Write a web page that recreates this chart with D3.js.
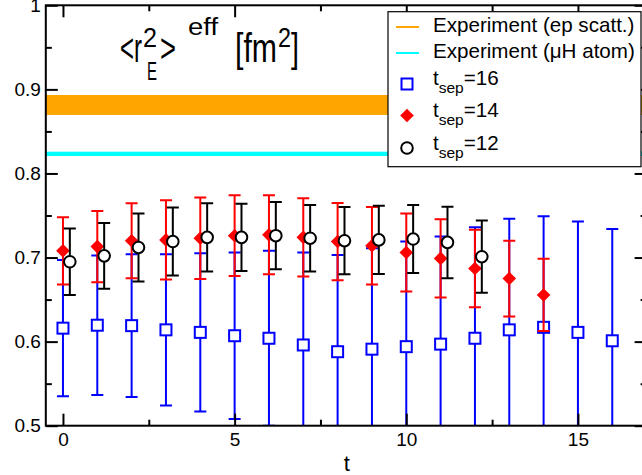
<!DOCTYPE html>
<html><head><meta charset="utf-8">
<script src="https://cdn.jsdelivr.net/npm/d3@7"></script>
<style>
body{margin:0;background:#fff}
svg{display:block}
text{font-family:"Liberation Sans",Arial,Helvetica,sans-serif;fill:#000}
</style>
</head><body>
<svg id="c" width="642" height="475"></svg>
<script>
// ---- data ----
const t16   = [0,1,2,3,4,5,6,7,8,9,10,11,12,13,14,15,16];
const val16 = [0.616,0.6195,0.619,0.614,0.611,0.607,0.604,0.596,0.588,0.591,0.594,0.597,0.604,0.614,0.617,0.611,0.601];
const err16 = [0.081,0.083,0.085,0.090,0.094,0.099,0.104,0.110,0.115,0.120,0.125,0.128,0.132,0.132,0.132,0.132,0.133];

const t14   = [0,1,2,3,4,5,6,7,8,9,10,11,12,13,14];
const val14 = [0.708,0.713,0.720,0.721,0.723,0.726,0.727,0.724,0.719,0.714,0.706,0.699,0.687,0.675,0.6555];
const err14 = [0.040,0.0425,0.0445,0.047,0.0485,0.048,0.047,0.0465,0.046,0.046,0.0465,0.0465,0.046,0.045,0.043];

const t12   = [0,1,2,3,4,5,6,7,8,9,10,11,12];
const val12 = [0.695,0.702,0.712,0.719,0.724,0.724,0.726,0.723,0.720,0.721,0.722,0.718,0.701];
const err12 = [0.0395,0.039,0.0405,0.0405,0.0405,0.040,0.040,0.0395,0.040,0.0405,0.0405,0.0425,0.043];

const bandEp  = [0.8696, 0.8933];   // Experiment (ep scatt.)
const bandMuH = [0.8208, 0.8259];   // Experiment (muH atom)

const xMajor = [0,5,10,15];
const xMinor = [2.5,7.5,12.5];
const yMajor = [0.5,0.6,0.7,0.8,0.9,1.0];
const yMinor = [0.55,0.65,0.75,0.85,0.95];
const yLabels = ["0.5","0.6","0.7","0.8","0.9","1"];
const xLabels = ["0","5","10","15"];
const legendLabels = ["Experiment (ep scatt.)","Experiment (\u03BCH atom)","16","14","12"];

// ---- layout ----
const svg = d3.select("#c");
const L = 45.8, R = 646.6, T = 5.3, B = 425.7;
const x = d3.scaleLinear().domain([-0.5,17]).range([L,R]);
const y = d3.scaleLinear().domain([0.5,1]).range([B,T]);
const off12 = 0.2;

svg.append("defs").append("clipPath").attr("id","clip")
  .append("rect").attr("x",L).attr("y",T).attr("width",R-L).attr("height",B-T);

// bands
const bands = svg.append("g").attr("clip-path","url(#clip)");
bands.append("rect").attr("x",L).attr("width",R-L)
  .attr("y",y(bandEp[1])).attr("height",y(bandEp[0])-y(bandEp[1])).attr("fill","#ffa500");
bands.append("rect").attr("x",L).attr("width",R-L)
  .attr("y",y(bandMuH[1])).attr("height",y(bandMuH[0])-y(bandMuH[1])).attr("fill","#00ffff");

// series
const series = [
  {t:t16, v:val16, e:err16, col:"#0000ff", sym:"square", off:0},
  {t:t14, v:val14, e:err14, col:"#ff0000", sym:"diamond", off:0},
  {t:t12, v:val12, e:err12, col:"#000000", sym:"circle", off:off12}
];
const cap = 6;
function drawSym(g, sym, col, cx, cy){
  if(sym==="square"){
    g.append("rect").attr("x",cx-5.5).attr("y",cy-5.5).attr("width",11).attr("height",11)
      .attr("fill","#fff").attr("stroke",col).attr("stroke-width",2);
  } else if(sym==="diamond"){
    const r=6.8;
    g.append("path").attr("d",`M${cx},${cy-r}L${cx+r},${cy}L${cx},${cy+r}L${cx-r},${cy}Z`).attr("fill",col);
  } else {
    g.append("circle").attr("cx",cx).attr("cy",cy).attr("r",5.8)
      .attr("fill","#fff").attr("stroke",col).attr("stroke-width",2);
  }
}
const plot = svg.append("g").attr("clip-path","url(#clip)");
series.forEach(s=>{
  const g = plot.append("g");
  s.t.forEach((t,i)=>{
    const cx = x(t+s.off), y1 = y(s.v[i]+s.e[i]), y0 = y(s.v[i]-s.e[i]);
    g.append("line").attr("x1",cx).attr("x2",cx).attr("y1",y0).attr("y2",y1).attr("stroke",s.col).attr("stroke-width",2);
    [y0,y1].forEach(yy=>g.append("line").attr("x1",cx-cap).attr("x2",cx+cap).attr("y1",yy).attr("y2",yy).attr("stroke",s.col).attr("stroke-width",2));
  });
  s.t.forEach((t,i)=>drawSym(g, s.sym, s.col, x(t+s.off), y(s.v[i])));
});

// axes
const fs = 19;
function styleAxis(g){ g.select(".domain").remove(); g.selectAll(".tick line").attr("stroke","#000").attr("stroke-width",2);
  g.selectAll("text").attr("font-size",fs).attr("font-family",'"Liberation Sans",Arial,sans-serif').attr("fill","#000"); }
svg.append("g").attr("transform",`translate(0,${B})`)
  .call(d3.axisBottom(x).tickValues(xMajor).tickFormat((d,i)=>xLabels[i]).tickSizeInner(-12).tickSizeOuter(0).tickPadding(7)).call(styleAxis);
svg.append("g").attr("transform",`translate(0,${B})`)
  .call(d3.axisBottom(x).tickValues(xMinor).tickFormat("").tickSizeInner(-6).tickSizeOuter(0)).call(styleAxis);
svg.append("g").attr("transform",`translate(0,${T})`)
  .call(d3.axisTop(x).tickValues(xMajor).tickFormat("").tickSizeInner(-12).tickSizeOuter(0)).call(styleAxis);
svg.append("g").attr("transform",`translate(0,${T})`)
  .call(d3.axisTop(x).tickValues(xMinor).tickFormat("").tickSizeInner(-6).tickSizeOuter(0)).call(styleAxis);
svg.append("g").attr("transform",`translate(${L},0)`)
  .call(d3.axisLeft(y).tickValues(yMajor).tickFormat((d,i)=>yLabels[i]).tickSizeInner(-12).tickSizeOuter(0).tickPadding(5)).call(styleAxis);
svg.append("g").attr("transform",`translate(${L},0)`)
  .call(d3.axisLeft(y).tickValues(yMinor).tickFormat("").tickSizeInner(-6).tickSizeOuter(0)).call(styleAxis);
svg.append("g").attr("transform",`translate(${R},0)`)
  .call(d3.axisRight(y).tickValues(yMajor).tickFormat("").tickSizeInner(-12).tickSizeOuter(0)).call(styleAxis);
svg.append("g").attr("transform",`translate(${R},0)`)
  .call(d3.axisRight(y).tickValues(yMinor).tickFormat("").tickSizeInner(-6).tickSizeOuter(0)).call(styleAxis);

svg.append("rect").attr("x",L).attr("y",T).attr("width",R-L).attr("height",B-T)
  .attr("fill","none").attr("stroke","#000").attr("stroke-width",2);

svg.append("text").attr("x",(L+642)/2+3).attr("y",471).attr("text-anchor","middle").attr("font-size",22).text("t");

// title
const title = [
  {s:"<r",  x:120, w:22, f:40, b:62},
  {s:"2",   x:143, w:14, f:27, b:47},
  {s:"E",   x:147, w:10, f:25, b:80},
  {s:">",   x:160, w:16, f:40, b:62},
  {s:"eff", x:188, w:30, f:23, b:35},
  {s:"[fm", x:235, w:42, f:40, b:62},
  {s:"2",   x:278, w:13, f:27, b:47},
  {s:"]",   x:291, w:8,  f:40, b:62}
];
title.forEach(p=>svg.append("text").attr("x",p.x).attr("y",p.b).attr("font-size",p.f)
  .attr("textLength",p.w).attr("lengthAdjust","spacingAndGlyphs").text(p.s));

// legend
const lg = svg.append("g");
lg.append("rect").attr("x",388).attr("y",11.7).attr("width",253).attr("height",155)
  .attr("fill","#fff").attr("stroke","#000").attr("stroke-width",1.2);
const rows = [32,58,85,117,150];
lg.append("line").attr("x1",396).attr("x2",419).attr("y1",rows[0]-5).attr("y2",rows[0]-5).attr("stroke","#ffa500").attr("stroke-width",2);
lg.append("line").attr("x1",396).attr("x2",419).attr("y1",rows[1]-5).attr("y2",rows[1]-5).attr("stroke","#00ffff").attr("stroke-width",2);
const lfs = 20.6;
[0,1].forEach(i=>lg.append("text").attr("x",433).attr("y",rows[i]).attr("font-size",lfs).text(legendLabels[i]));
series.forEach((s,k)=>{
  const r = rows[2+k];
  drawSym(lg, s.sym, s.col, 407, r-1-k*0.5);
  const tx = lg.append("text").attr("x",433).attr("y",r).attr("font-size",lfs);
  tx.append("tspan").text("t");
  tx.append("tspan").attr("font-size",15.5).attr("dy",8).text("sep");
  tx.append("tspan").attr("dy",-8).text("="+legendLabels[2+k]);
});
</script>
</body></html>
